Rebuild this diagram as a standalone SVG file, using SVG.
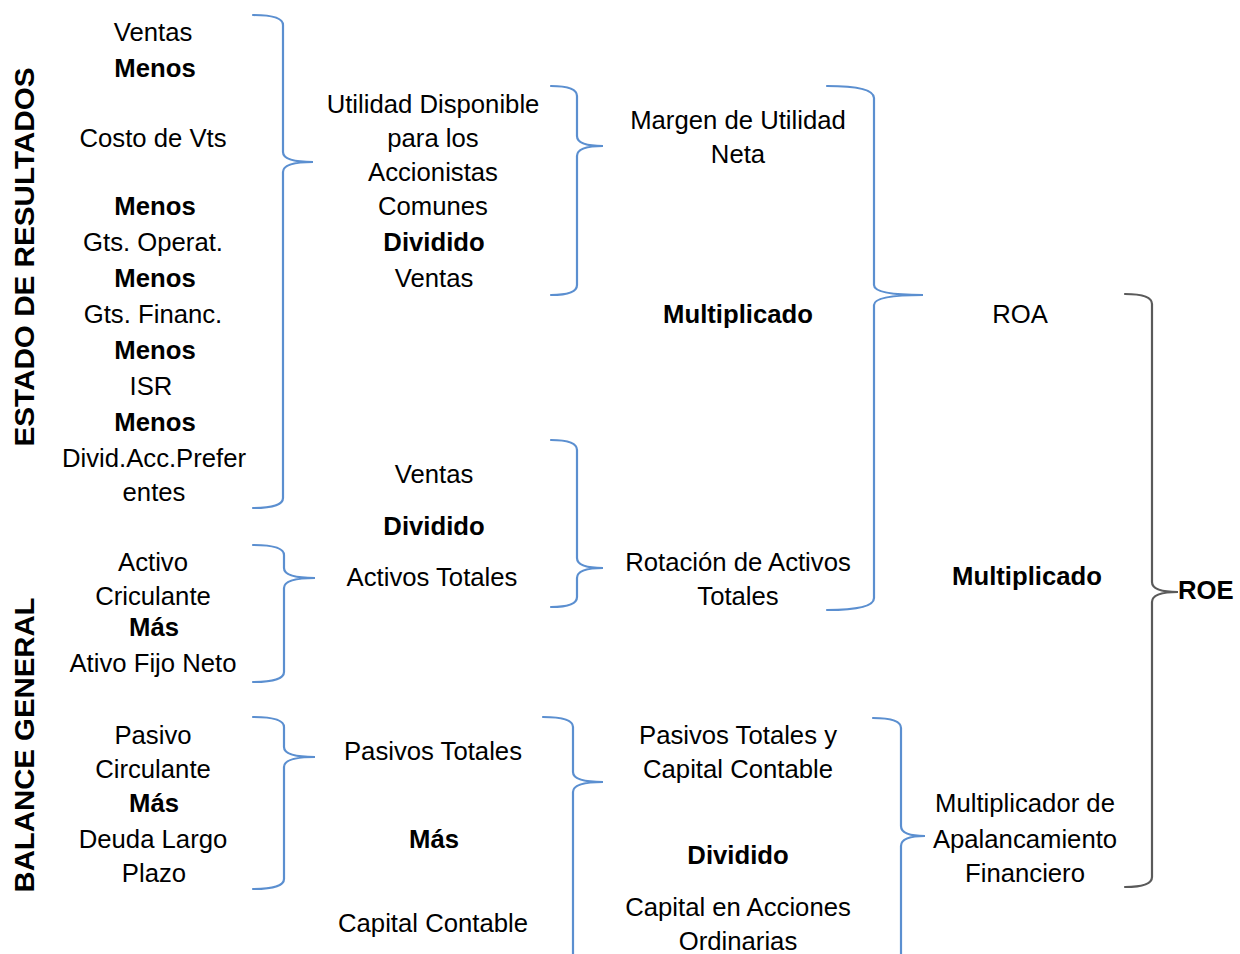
<svg xmlns="http://www.w3.org/2000/svg" width="1240" height="954" viewBox="0 0 1240 954">
<style>
text{font-family:"Liberation Sans",Arial,sans-serif;font-size:25.7px;fill:#000;text-anchor:middle}
.b{font-weight:bold}
.v{font-weight:bold;font-size:28px}
.br{fill:none;stroke:#5b8fd0;stroke-width:2.2;stroke-linecap:round}
.gr{stroke:#5a5a5a}
</style>
<rect width="1240" height="954" fill="#fff"/>
<g id="connectors">
<path class="br" d="M253 15 Q283 15 283 25 L283 152 Q283 162 313 162 Q283 162 283 172 L283 498 Q283 508 253 508"/>
<path class="br" d="M551 86 Q577 86 577 96 L577 136 Q577 146 603 146 Q577 146 577 156 L577 285 Q577 295 551 295"/>
<path class="br" d="M827 86 Q874 86 874 98 L874 285 Q874 295 923 295 Q874 295 874 305 L874 598 Q874 610 827 610"/>
<path class="br gr" d="M1125 294 Q1152 294 1152 304 L1152 582 Q1152 592 1178 592 Q1152 592 1152 602 L1152 877 Q1152 887 1125 887"/>
<path class="br" d="M551 440 Q577 440 577 450 L577 558 Q577 568 603 568 Q577 568 577 578 L577 597 Q577 607 551 607"/>
<path class="br" d="M253 545 Q284 545 284 555 L284 568 Q284 578 315 578 Q284 578 284 588 L284 672 Q284 682 253 682"/>
<path class="br" d="M253 717 Q284 717 284 727 L284 747 Q284 757 315 757 Q284 757 284 767 L284 879 Q284 889 253 889"/>
<path class="br" d="M543 717 Q573 717 573 727 L573 772 Q573 782 603 782 Q573 782 573 792 L573 960"/>
<path class="br" d="M873 718 Q901 718 901 728 L901 826 Q901 836 925 836 Q901 836 901 846 L901 960"/>
</g>
<g id="label-estado"><text class="v" transform="translate(34 257) rotate(-90)" textLength="379" lengthAdjust="spacingAndGlyphs">ESTADO DE RESULTADOS</text></g>
<g id="label-balance"><text class="v" transform="translate(34 745) rotate(-90)" textLength="295" lengthAdjust="spacingAndGlyphs">BALANCE GENERAL</text></g>
<g id="node-estado-items">
<text x="153" y="41">Ventas</text>
<text x="155" y="77" class="b">Menos</text>
<text x="153" y="147">Costo de Vts</text>
<text x="155" y="215" class="b">Menos</text>
<text x="153" y="251">Gts. Operat.</text>
<text x="155" y="287" class="b">Menos</text>
<text x="153" y="323">Gts. Financ.</text>
<text x="155" y="359" class="b">Menos</text>
<text x="151" y="395">ISR</text>
<text x="155" y="431" class="b">Menos</text>
<text x="154" y="467">Divid.Acc.Prefer</text>
<text x="154" y="501">entes</text>
</g>
<g id="node-activos-items">
<text x="153" y="571">Activo</text>
<text x="153" y="605">Criculante</text>
<text x="154" y="636" class="b">Más</text>
<text x="153" y="672">Ativo Fijo Neto</text>
</g>
<g id="node-pasivos-items">
<text x="153" y="744">Pasivo</text>
<text x="153" y="778">Circulante</text>
<text x="154" y="812" class="b">Más</text>
<text x="153" y="848">Deuda Largo</text>
<text x="154" y="882">Plazo</text>
</g>
<g id="node-utilidad">
<text x="433" y="113">Utilidad Disponible</text>
<text x="433" y="147">para los</text>
<text x="433" y="181">Accionistas</text>
<text x="433" y="215">Comunes</text>
<text x="434" y="251" class="b">Dividido</text>
<text x="434" y="287">Ventas</text>
</g>
<g id="node-rotacion-inputs">
<text x="434" y="483">Ventas</text>
<text x="434" y="535" class="b">Dividido</text>
<text x="432" y="586">Activos Totales</text>
</g>
<g id="node-pasivos-capital">
<text x="433" y="760">Pasivos Totales</text>
<text x="434" y="848" class="b">Más</text>
<text x="433" y="932">Capital Contable</text>
</g>
<g id="node-margen">
<text x="738" y="129">Margen de Utilidad</text>
<text x="738" y="163">Neta</text>
</g>
<g id="node-multiplicado1"><text x="738" y="323" class="b">Multiplicado</text></g>
<g id="node-rotacion">
<text x="738" y="571">Rotación de Activos</text>
<text x="738" y="605">Totales</text>
</g>
<g id="node-apalanc-inputs">
<text x="738" y="744">Pasivos Totales y</text>
<text x="738" y="778">Capital Contable</text>
<text x="738" y="864" class="b">Dividido</text>
<text x="738" y="916">Capital en Acciones</text>
<text x="738" y="950">Ordinarias</text>
</g>
<g id="node-roa"><text x="1020" y="323">ROA</text></g>
<g id="node-multiplicado2"><text x="1027" y="585" class="b">Multiplicado</text></g>
<g id="node-multiplicador">
<text x="1025" y="812">Multiplicador de</text>
<text x="1025" y="848">Apalancamiento</text>
<text x="1025" y="882">Financiero</text>
</g>
<g id="node-roe"><text x="1178" y="599" class="b" style="text-anchor:start">ROE</text></g>
</svg>
